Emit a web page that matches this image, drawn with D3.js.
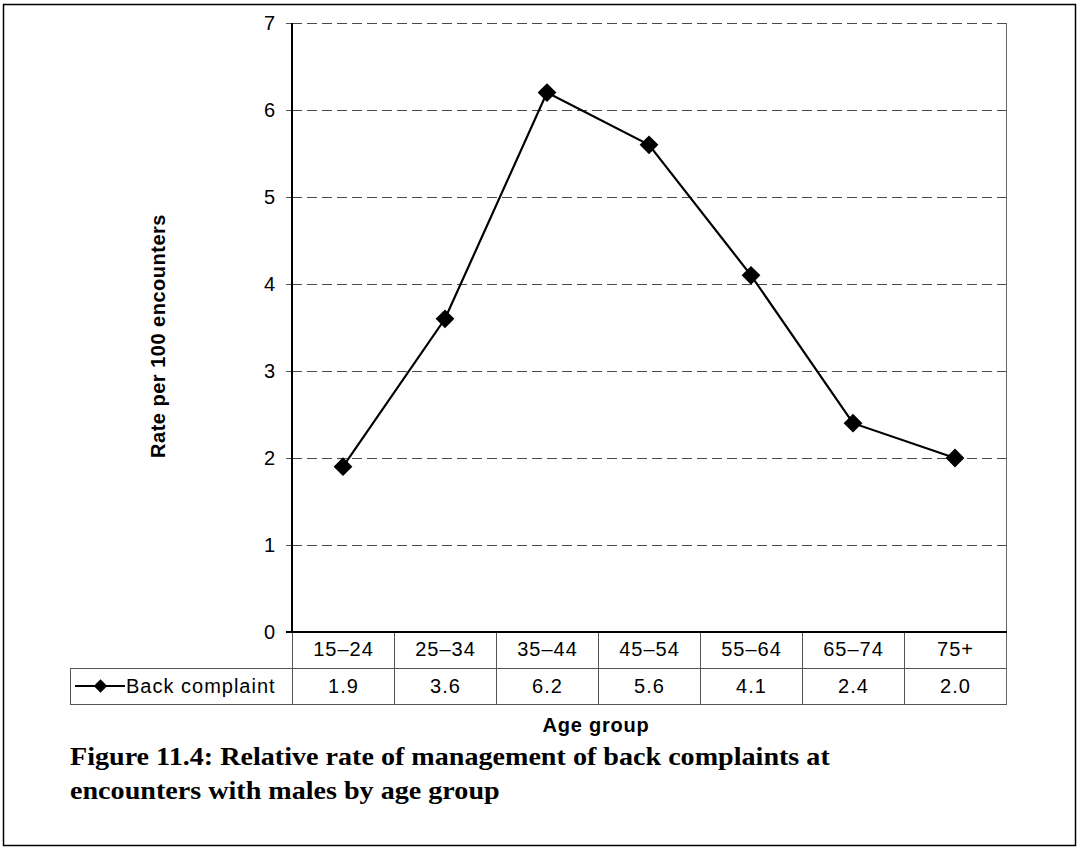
<!DOCTYPE html>
<html>
<head>
<meta charset="utf-8">
<script src="https://cdn.jsdelivr.net/npm/d3@7"></script>
<style>
  body { margin: 0; background: #fff; }
  text { font-family: "Liberation Sans", Arial, sans-serif; fill: #000; }
</style>
</head>
<body>
<svg id="chart" width="1080" height="849"></svg>
<script>
const ageGroups = ["15\u201324", "25\u201334", "35\u201344", "45\u201354", "55\u201364", "65\u201374", "75+"];
const rates = [1.9, 3.6, 6.2, 5.6, 4.1, 2.4, 2.0];
const rateLabels = ["1.9", "3.6", "6.2", "5.6", "4.1", "2.4", "2.0"];
const yTicks = [0, 1, 2, 3, 4, 5, 6, 7];
const seriesName = "Back complaint";
const captionLines = [
  "Figure 11.4: Relative rate of management of back complaints at",
  "encounters with males by age group"
];

const svg = d3.select("#chart");
const plotL = 292, plotR = 1006, plotT = 23, plotB = 632;
const rowH = 36, legendLeft = 70;

// outer frame
svg.append("rect")
  .attr("x", 3.5).attr("y", 4.5).attr("width", 1072).attr("height", 841)
  .attr("fill", "none").attr("stroke", "#000").attr("stroke-width", 1.5);

const x = d3.scaleBand().domain(ageGroups).range([plotL, plotR]);
const y = d3.scaleLinear().domain([0, 7]).range([plotB, plotT]);

// gridlines
svg.append("g").selectAll("line")
  .data(yTicks.filter(d => d > 0))
  .join("line")
  .attr("x1", plotL).attr("x2", plotR)
  .attr("y1", d => y(d) + 0.5).attr("y2", d => y(d) + 0.5)
  .attr("stroke", "#4a4a4a").attr("stroke-width", 1)
  .attr("stroke-dasharray", "10,5");

// right border of plot
svg.append("line")
  .attr("x1", plotR + 0.5).attr("x2", plotR + 0.5)
  .attr("y1", plotT).attr("y2", plotB + 2 * rowH)
  .attr("stroke", "#666").attr("stroke-width", 1);

// y axis
const yAxis = svg.append("g")
  .attr("transform", `translate(${plotL},0)`)
  .call(d3.axisLeft(y).tickValues(yTicks).tickSize(6).tickPadding(11).tickFormat(d3.format("d")));
yAxis.select(".domain").remove();
yAxis.selectAll(".tick line").attr("stroke", "#555");
yAxis.selectAll(".tick text").attr("font-size", 20).attr("fill", "#000")
  .attr("font-family", "'Liberation Sans', Arial, sans-serif");
svg.append("line")
  .attr("x1", plotL).attr("x2", plotL).attr("y1", plotT).attr("y2", plotB)
  .attr("stroke", "#000").attr("stroke-width", 2);

// data table
const table = svg.append("g");
table.selectAll("line.col")
  .data(ageGroups)
  .join("line")
  .attr("class", "col")
  .attr("x1", d => x(d) + 0.5).attr("x2", d => x(d) + 0.5)
  .attr("y1", plotB).attr("y2", plotB + 2 * rowH)
  .attr("stroke", "#555");
table.append("line")
  .attr("x1", legendLeft).attr("x2", plotR)
  .attr("y1", plotB + rowH + 0.5).attr("y2", plotB + rowH + 0.5)
  .attr("stroke", "#555");
table.append("line")
  .attr("x1", legendLeft).attr("x2", plotR + 1)
  .attr("y1", plotB + 2 * rowH + 0.5).attr("y2", plotB + 2 * rowH + 0.5)
  .attr("stroke", "#555");
table.append("line")
  .attr("x1", legendLeft + 0.5).attr("x2", legendLeft + 0.5)
  .attr("y1", plotB + rowH).attr("y2", plotB + 2 * rowH)
  .attr("stroke", "#555");
table.selectAll("text.cat")
  .data(ageGroups)
  .join("text")
  .attr("class", "cat")
  .attr("x", d => x(d) + x.bandwidth() / 2 + 0.5)
  .attr("y", plotB + 24)
  .attr("text-anchor", "middle").attr("font-size", 20).attr("letter-spacing", 1)
  .text(d => d);
table.selectAll("text.val")
  .data(rateLabels)
  .join("text")
  .attr("class", "val")
  .attr("x", (d, i) => x(ageGroups[i]) + x.bandwidth() / 2 + 0.5)
  .attr("y", plotB + rowH + 25)
  .attr("text-anchor", "middle").attr("font-size", 20).attr("letter-spacing", 1)
  .text(d => d);

// x axis line (top of table)
svg.append("line")
  .attr("x1", plotL - 6).attr("x2", plotR + 1).attr("y1", plotB).attr("y2", plotB)
  .attr("stroke", "#000").attr("stroke-width", 2);

const diamond = d3.symbol().type(d3.symbolDiamond2).size(225);

// legend key
const ly = plotB + rowH * 1.5;
table.append("line")
  .attr("x1", 75).attr("x2", 125).attr("y1", ly).attr("y2", ly)
  .attr("stroke", "#000").attr("stroke-width", 2);
table.append("path")
  .attr("d", d3.symbol().type(d3.symbolDiamond2).size(115))
  .attr("transform", `translate(100.5,${ly})`);
table.append("text")
  .attr("x", 126).attr("y", plotB + rowH + 25).attr("font-size", 20).attr("letter-spacing", 1)
  .text(seriesName);

// series line
svg.append("path")
  .datum(rates)
  .attr("fill", "none").attr("stroke", "#000").attr("stroke-width", 2.2)
  .attr("d", d3.line()
    .x((d, i) => x(ageGroups[i]) + x.bandwidth() / 2)
    .y(d => y(d)));
svg.append("g").selectAll("path")
  .data(rates)
  .join("path")
  .attr("d", diamond)
  .attr("fill", "#000")
  .attr("transform", (d, i) => `translate(${x(ageGroups[i]) + x.bandwidth() / 2},${y(d)})`);

// axis titles
svg.append("text")
  .attr("transform", "translate(165,336) rotate(-90)")
  .attr("text-anchor", "middle").attr("font-size", 20).attr("font-weight", "bold")
  .attr("letter-spacing", 0.5)
  .text("Rate per 100 encounters");
svg.append("text")
  .attr("x", 596).attr("y", 732)
  .attr("text-anchor", "middle").attr("font-size", 20).attr("font-weight", "bold")
  .attr("letter-spacing", 0.8)
  .text("Age group");

// caption
const cap = svg.append("g").attr("transform", "translate(70,0)");
const capText = cap.selectAll("text")
  .data(captionLines)
  .join("text")
  .attr("x", 0).attr("y", (d, i) => 765 + i * 34)
  .style("font-family", "'Liberation Serif', serif")
  .attr("font-size", 25).attr("font-weight", "bold")
  .text(d => d);
const sx = 760 / capText.node().getComputedTextLength();
cap.attr("transform", `translate(70,0) scale(${sx},1)`);
</script>
</body>
</html>
